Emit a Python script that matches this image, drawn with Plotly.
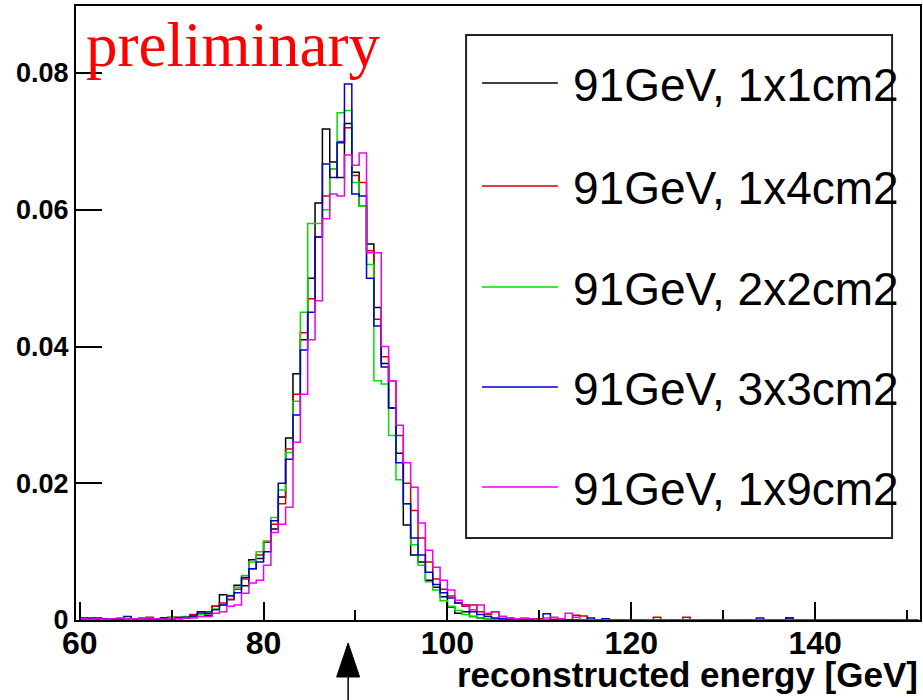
import plotly.graph_objects as go

# ---------------- data (normalised histograms, bin width 0.8 GeV from 60 GeV) -------------
bin_start = 60.0
bin_width = 0.8

series_names = ["91GeV, 1x1cm2", "91GeV, 1x4cm2", "91GeV, 2x2cm2", "91GeV, 3x3cm2", "91GeV, 1x9cm2"]
series_colors = ["#000000", "#d00000", "#00dd00", "#0000cc", "#ee00ee"]

h_1x1 = [
    0.0003, 0.0002, 0.0003, 0, 0.0002, 0, 0.0001, 0, 0.0002, 0.0001,
    0.0002, 0.0003, 0.0002, 0.0004, 0.0003, 0.0005, 0.0010, 0.0007, 0.0020, 0.0037,
    0.0030, 0.0051, 0.0050, 0.0088, 0.0090, 0.0114, 0.0133, 0.0180, 0.0266, 0.0360,
    0.0410, 0.0500, 0.0610, 0.0718, 0.0670, 0.0647, 0.0726, 0.0655, 0.0605, 0.0550,
    0.0457, 0.0375, 0.0310, 0.0244, 0.0139, 0.0095, 0.0085, 0.0058, 0.0048, 0.0034,
    0.0019, 0.0010, 0.0012, 0.0005, 0.0003, 0.0002, 0.0001, 0, 0.0001, 0,
    0, 0.0001, 0, 0, 0, 0, 0, 0, 0, 0,
    0, 0, 0, 0, 0, 0, 0, 0, 0, 0,
    0, 0, 0, 0, 0, 0, 0, 0, 0, 0,
    0, 0, 0, 0, 0, 0, 0, 0, 0, 0,
    0, 0, 0, 0, 0, 0, 0, 0, 0, 0,
    0, 0, 0, 0,
]
h_1x4 = [
    0.0001, 0.0002, 0.0001, 0, 0.0002, 0.0001, 0.0002, 0.0001, 0.0003, 0.0004,
    0.0002, 0.0003, 0.0004, 0.0002, 0.0004, 0.0008, 0.0010, 0.0012, 0.0020, 0.0025,
    0.0030, 0.0045, 0.0060, 0.0075, 0.0095, 0.0115, 0.0140, 0.0170, 0.0250, 0.0330,
    0.0420, 0.0470, 0.0560, 0.0620, 0.0660, 0.0700, 0.0720, 0.0650, 0.0640, 0.0540,
    0.0440, 0.0385, 0.0350, 0.0270, 0.0200, 0.0160, 0.0120, 0.0085, 0.0060, 0.0045,
    0.0035, 0.0025, 0.0020, 0.0022, 0.0012, 0.0008, 0.0012, 0.0005, 0.0003, 0.0002,
    0.0001, 0, 0.0002, 0, 0.0001, 0, 0, 0.0007, 0.0006, 0,
    0, 0, 0, 0, 0, 0, 0, 0, 0.0004, 0,
    0, 0, 0.0004, 0, 0, 0, 0, 0, 0, 0,
    0, 0, 0, 0, 0, 0, 0.0003, 0, 0, 0,
    0, 0, 0, 0, 0, 0, 0, 0, 0, 0,
    0, 0, 0, 0,
]
h_2x2 = [
    0.0001, 0, 0.0002, 0.0001, 0, 0.0002, 0.0001, 0.0002, 0.0003, 0.0001,
    0.0002, 0.0002, 0.0004, 0.0003, 0.0005, 0.0006, 0.0008, 0.0010, 0.0016, 0.0022,
    0.0036, 0.0048, 0.0065, 0.0085, 0.0100, 0.0115, 0.0150, 0.0190, 0.0245, 0.0320,
    0.0450, 0.0580, 0.0580, 0.0600, 0.0660, 0.0742, 0.0745, 0.0640, 0.0605, 0.0520,
    0.0350, 0.0345, 0.0270, 0.0205, 0.0170, 0.0110, 0.0080, 0.0056, 0.0044, 0.0028,
    0.0020, 0.0014, 0.0008, 0.0005, 0.0003, 0.0002, 0.0001, 0.0001, 0, 0,
    0, 0.0001, 0, 0, 0, 0, 0, 0, 0, 0,
    0, 0, 0, 0, 0, 0, 0, 0, 0, 0,
    0, 0, 0, 0, 0, 0, 0, 0, 0, 0,
    0, 0, 0, 0, 0, 0, 0, 0, 0, 0,
    0, 0, 0, 0, 0, 0, 0, 0, 0, 0,
    0, 0, 0, 0,
]
h_3x3 = [
    0.0002, 0.0003, 0, 0.0002, 0.0001, 0.0002, 0.0005, 0.0002, 0.0001, 0.0002,
    0.0001, 0.0003, 0.0002, 0.0003, 0.0004, 0.0006, 0.0012, 0.0010, 0.0015, 0.0022,
    0.0035, 0.0040, 0.0062, 0.0075, 0.0085, 0.0100, 0.0145, 0.0200, 0.0235, 0.0300,
    0.0395, 0.0450, 0.0560, 0.0667, 0.0647, 0.0698, 0.0784, 0.0623, 0.0620, 0.0500,
    0.0430, 0.0370, 0.0310, 0.0230, 0.0170, 0.0120, 0.0095, 0.0070, 0.0052, 0.0040,
    0.0032, 0.0025, 0.0022, 0.0012, 0.0008, 0.0005, 0.0003, 0.0002, 0.0001, 0.0002,
    0, 0.0001, 0, 0.0009, 0, 0, 0, 0, 0, 0.0003,
    0, 0.0002, 0, 0, 0, 0, 0, 0, 0, 0,
    0, 0, 0, 0, 0, 0, 0, 0, 0, 0,
    0, 0, 0.0003, 0, 0, 0, 0.0003, 0, 0, 0,
    0, 0, 0, 0, 0, 0, 0, 0, 0, 0,
    0, 0, 0, 0,
]
h_1x9 = [
    0.0002, 0.0001, 0.0002, 0.0001, 0.0002, 0.0003, 0.0001, 0.0002, 0.0001, 0.0003,
    0.0002, 0.0001, 0.0002, 0.0002, 0.0003, 0.0003, 0.0005, 0.0005, 0.0010, 0.0012,
    0.0020, 0.0022, 0.0039, 0.0054, 0.0058, 0.0080, 0.0128, 0.0140, 0.0165, 0.0260,
    0.0330, 0.0410, 0.0467, 0.0587, 0.0623, 0.0620, 0.0680, 0.0665, 0.0683, 0.0537,
    0.0537, 0.0400, 0.0350, 0.0285, 0.0230, 0.0194, 0.0142, 0.0102, 0.0077, 0.0058,
    0.0044, 0.0029, 0.0022, 0.0015, 0.0022, 0.0010, 0.0012, 0.0005, 0.0003, 0.0002,
    0.0003, 0.0002, 0, 0.0003, 0.0004, 0.0002, 0.0010, 0.0004, 0, 0,
    0, 0, 0, 0, 0, 0, 0, 0, 0, 0,
    0, 0, 0, 0, 0, 0, 0, 0, 0, 0,
    0, 0, 0, 0, 0, 0, 0, 0, 0, 0,
    0, 0, 0, 0, 0, 0, 0, 0, 0, 0,
    0, 0, 0, 0,
]
histograms = [h_1x1, h_1x4, h_2x2, h_3x3, h_1x9]

x_tick_vals = [60, 80, 100, 120, 140]
y_tick_vals = [0, 0.02, 0.04, 0.06, 0.08]
y_tick_text = ["0", "0.02", "0.04", "0.06", "0.08"]
x_title = "reconstructed energy [GeV]"
stamp_text = "preliminary"
arrow_energy = 89.2

# ---------------- layout geometry ----------------
W, H = 923, 700
ML, MR, MT, MB = 76, 1, 6, 80
PW, PH = W - ML - MR, H - MT - MB


def pxx(x):
    return (x - ML) / PW


def pxy(y):
    return (H - MB - y) / PH


fig = go.Figure()
for name, color, h in zip(series_names, series_colors, histograms):
    edges = [bin_start + bin_width * i for i in range(len(h) + 1)]
    fig.add_trace(go.Scatter(
        x=edges, y=list(h) + [h[-1]], mode="lines", name=name,
        line=dict(shape="hv", color=color, width=1.5), showlegend=False,
        hoverinfo="skip"))

shapes = []
annotations = []

# legend box
shapes.append(dict(type="rect", xref="paper", yref="paper",
                   x0=pxx(467), x1=pxx(894), y0=pxy(538), y1=pxy(35),
                   fillcolor="white", line=dict(color="#222222", width=2), layer="above"))
legend_y = [83, 186, 287, 387, 487]
for name, color, ly in zip(series_names, series_colors, legend_y):
    shapes.append(dict(type="line", xref="paper", yref="paper",
                       x0=pxx(483), x1=pxx(559), y0=pxy(ly), y1=pxy(ly),
                       line=dict(color=color, width=1.5), layer="above"))
    annotations.append(dict(xref="paper", yref="paper", x=pxx(572), y=pxy(ly + 2),
                            xanchor="left", yanchor="middle", showarrow=False,
                            text=name, font=dict(family="Liberation Sans", size=46, color="black")))

# arrow under the x axis
shapes.append(dict(type="path", xref="x", yref="paper", xsizemode="pixel", xanchor=arrow_energy,
                   path="M -11.5,%f L 0,%f L 11.5,%f Z" % (pxy(677), pxy(643), pxy(677)),
                   fillcolor="black", line=dict(color="black", width=1)))
shapes.append(dict(type="line", xref="x", yref="paper", xsizemode="pixel", xanchor=arrow_energy,
                   x0=0, x1=0, y0=pxy(677), y1=pxy(705),
                   line=dict(color="black", width=1.5)))

# preliminary stamp
annotations.append(dict(xref="paper", yref="paper", x=pxx(84), y=pxy(45),
                        xanchor="left", yanchor="middle", showarrow=False,
                        text=stamp_text,
                        font=dict(family="Liberation Serif", size=63, color="#ff0000")))
# x axis title
annotations.append(dict(xref="paper", yref="paper", x=pxx(922), y=pxy(674),
                        xanchor="right", yanchor="middle", showarrow=False,
                        text=x_title,
                        font=dict(family="Liberation Sans", size=35, color="black", weight="bold")))

fig.update_layout(
    width=W, height=H,
    margin=dict(l=ML, r=MR, t=MT, b=MB, pad=0),
    paper_bgcolor="white", plot_bgcolor="white",
    shapes=shapes, annotations=annotations,
    xaxis=dict(range=[59.6, 151.4], tickvals=x_tick_vals, ticks="inside", ticklen=18,
               tickwidth=1.5, tickcolor="black", showline=True, linewidth=2,
               linecolor="black", mirror=True, showgrid=False, zeroline=False,
               ticklabelstandoff=-6,
               tickfont=dict(family="Liberation Sans", size=32, color="black", weight="bold"),
               minor=dict(dtick=10, tick0=60, ticks="inside", ticklen=10, tickwidth=1.5,
                          tickcolor="black", showgrid=False)),
    yaxis=dict(range=[0, 0.0898], tickvals=y_tick_vals, ticktext=y_tick_text,
               ticks="inside", ticklen=26, tickwidth=1.5, tickcolor="black",
               showline=True, linewidth=2, linecolor="black", mirror=True,
               showgrid=False, zeroline=False,
               tickfont=dict(family="Liberation Sans", size=27, color="black", weight="bold")),
)

fig.write_html("out.html", config={"displayModeBar": False},
               post_script="document.body.style.margin='0px';document.body.style.padding='0px';")
